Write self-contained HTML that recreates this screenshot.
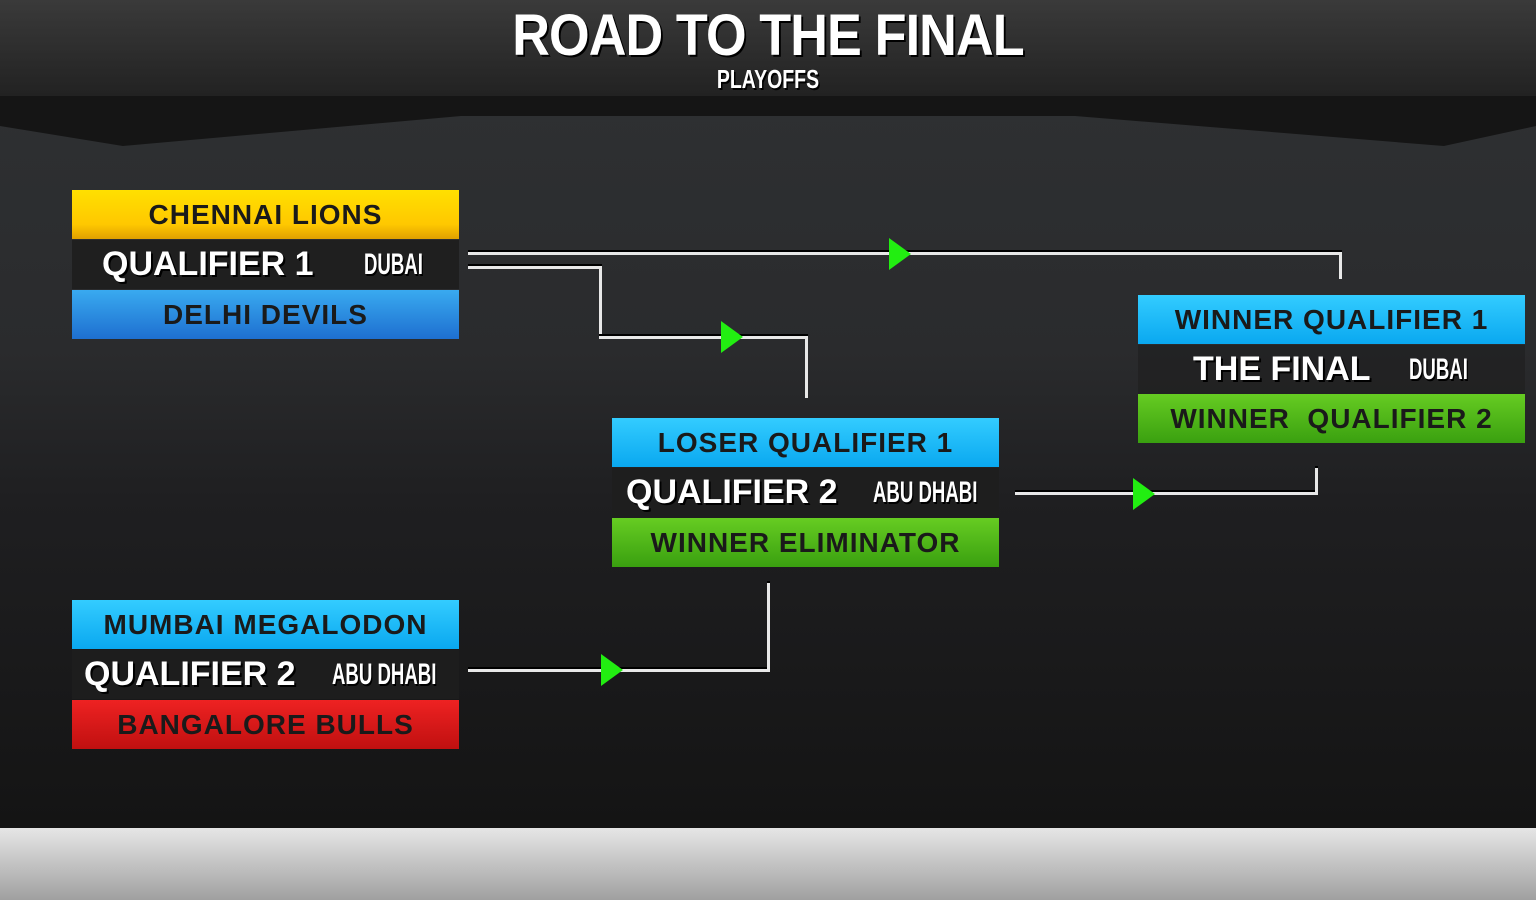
<!DOCTYPE html>
<html><head><style>
body{margin:0;width:1536px;height:900px;overflow:hidden;background:#1c1c1e;font-family:"Liberation Sans",sans-serif;position:relative}
.bg{position:absolute;left:0;top:95px;width:1536px;height:733px;background:linear-gradient(180deg,#2e3032 0%,#2a2b2d 35%,#1f1f21 55%,#19191a 80%,#141414 100%)}
.hdr{position:absolute;left:0;top:0;width:1536px;height:96px;background:linear-gradient(180deg,#3a3a3a,#222)}
.band{position:absolute;left:0;top:96px;width:1536px;height:50px;background:#151515;clip-path:polygon(0 0,100% 0,100% 60%,94% 100%,70% 40%,30% 40%,8% 100%,0 60%)}
.bot{position:absolute;left:0;top:828px;width:1536px;height:72px;background:linear-gradient(180deg,#e6e6e6,#a0a0a0)}
.t{position:absolute;left:0;width:1536px;text-align:center;color:#fff;font-weight:bold;text-shadow:2px 2px 0 #000}
.b{position:absolute;width:387px;height:49px;text-align:center;font-weight:bold;font-size:28px;line-height:49px;color:#1a1a1a;letter-spacing:1px;white-space:nowrap}
.y{background:linear-gradient(180deg,#ffe000,#ffc800 70%,#e0a000)}
.bl{background:linear-gradient(180deg,#39aaf0,#1e6fd0)}
.cy{background:linear-gradient(180deg,#33ccff,#0aa8f0)}
.g{background:linear-gradient(180deg,#66cc22,#3aa010)}
.r{background:linear-gradient(180deg,#ee2222,#c01010)}
.row{position:absolute;width:387px;height:49px;background:rgba(30,30,30,.9);color:#fff;font-weight:bold;font-size:34px;line-height:49px;text-shadow:2px 2px 0 #000;white-space:nowrap}
.row small{font-size:30px;white-space:nowrap;transform:scaleX(.62);transform-origin:left center;display:inline-block}
.l{position:absolute;background:#e8e8e8;box-shadow:0 -2px 0 #000}
.a{position:absolute;width:0;height:0;border-top:16px solid transparent;border-bottom:16px solid transparent;border-left:22px solid #22ee11}
</style></head><body>
<div class="bg"></div><div class="hdr"></div><div class="band"></div><div class="bot"></div>
<div class="t" style="top:2px;font-size:58px;letter-spacing:-1px;transform:scaleX(.9)">ROAD TO THE FINAL</div>
<div class="t" style="top:64px;font-size:26px;transform:scaleX(.75)">PLAYOFFS</div>

<div class="b y" style="left:72px;top:190px">CHENNAI LIONS</div>
<div class="row" style="left:72px;top:240px"><span style="position:absolute;left:30px">QUALIFIER 1</span><small style="position:absolute;left:292px">DUBAI</small></div>
<div class="b bl" style="left:72px;top:290px">DELHI DEVILS</div>

<div class="b cy" style="left:612px;top:418px">LOSER QUALIFIER 1</div>
<div class="row" style="left:612px;top:468px"><span style="position:absolute;left:14px">QUALIFIER 2</span><small style="position:absolute;left:261px">ABU DHABI</small></div>
<div class="b g" style="left:612px;top:518px">WINNER ELIMINATOR</div>

<div class="b cy" style="left:72px;top:600px">MUMBAI MEGALODON</div>
<div class="row" style="left:72px;top:650px"><span style="position:absolute;left:12px">QUALIFIER 2</span><small style="position:absolute;left:260px">ABU DHABI</small></div>
<div class="b r" style="left:72px;top:700px">BANGALORE BULLS</div>

<div class="b cy" style="left:1138px;top:295px">WINNER QUALIFIER 1</div>
<div class="row" style="left:1138px;top:345px;background:rgba(30,30,30,.6)"><span style="position:absolute;left:55px">THE FINAL</span><small style="position:absolute;left:271px">DUBAI</small></div>
<div class="b g" style="left:1138px;top:394px">WINNER &nbsp;QUALIFIER 2</div>

<div class="l" style="left:468px;top:252px;width:874px;height:3px"></div>
<div class="l" style="left:1339px;top:252px;width:3px;height:27px"></div>
<div class="l" style="left:468px;top:266px;width:134px;height:3px"></div>
<div class="l" style="left:599px;top:266px;width:3px;height:72px"></div>
<div class="l" style="left:599px;top:336px;width:209px;height:3px"></div>
<div class="l" style="left:805px;top:336px;width:3px;height:62px"></div>
<div class="l" style="left:1015px;top:492px;width:303px;height:3px"></div>
<div class="l" style="left:1315px;top:468px;width:3px;height:27px"></div>
<div class="l" style="left:468px;top:669px;width:302px;height:3px"></div>
<div class="l" style="left:767px;top:583px;width:3px;height:89px"></div>
<div class="a" style="left:889px;top:238px"></div>
<div class="a" style="left:721px;top:321px"></div>
<div class="a" style="left:1133px;top:478px"></div>
<div class="a" style="left:601px;top:654px"></div>
</body></html>
